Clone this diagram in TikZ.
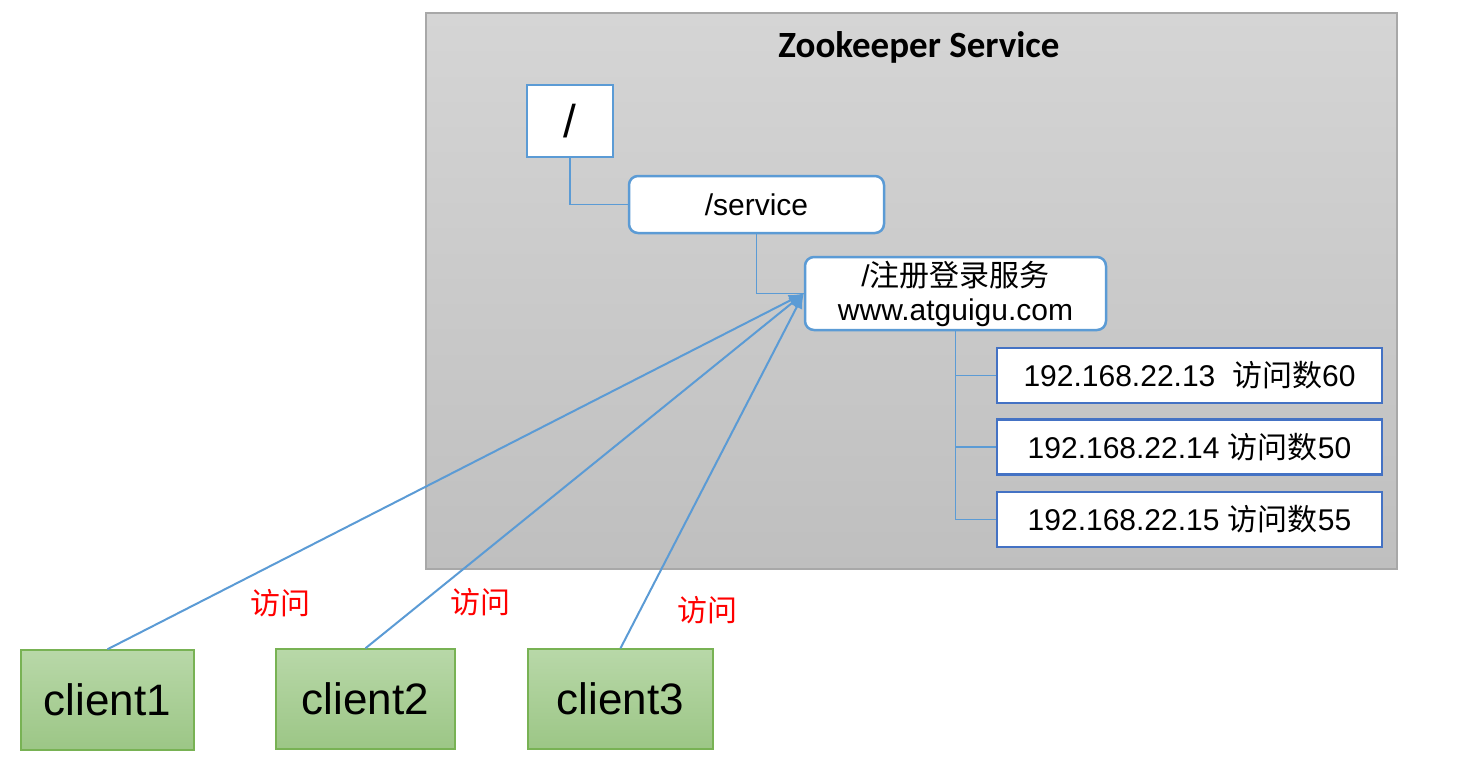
\documentclass[tikz,border=0pt]{standalone}
\usepackage{fontspec}
\setmainfont{Liberation Sans}
\newfontfamily\cjk{Noto Sans CJK SC}
\newfontfamily\titlefont{Carlito}
\usetikzlibrary{arrows.meta}
\definecolor{treeblue}{RGB}{91,155,213}
\definecolor{ipblue}{RGB}{68,114,196}
\definecolor{greenborder}{RGB}{120,178,84}
\definecolor{greentop}{RGB}{184,216,168}
\definecolor{greenbot}{RGB}{156,198,134}
\definecolor{graytop}{RGB}{213,213,213}
\definecolor{graybot}{RGB}{191,191,191}
\definecolor{grayborder}{RGB}{168,168,168}
\tikzset{
  svcbox/.style={draw=grayborder, line width=1.5pt, top color=graytop, bottom color=graybot, inner sep=0pt},
  rootbox/.style={draw=treeblue, line width=2.5pt, fill=white, inner sep=0pt},
  roundbox/.style={draw=treeblue, line width=2.5pt, fill=white, rounded corners=9pt, inner sep=0pt, align=center},
  ipbox/.style={draw=ipblue, line width=2.5pt, fill=white, inner sep=0pt, minimum width=385pt, minimum height=55pt, font=\fontsize{30}{36}\selectfont},
  clientbox/.style={draw=greenborder, line width=1.5pt, top color=greentop, bottom color=greenbot, inner sep=0pt, minimum height=100pt, font=\fontsize{44}{50}\selectfont},
  treeline/.style={draw=treeblue, line width=1.8pt},
  accline/.style={draw=treeblue, line width=2pt, -{Latex[length=15pt,width=12pt]}},
  acclabel/.style={text=red, font=\cjk\fontsize{30}{36}\selectfont, inner sep=0pt}
}
\begin{document}
\begin{tikzpicture}[x=1pt,y=-1pt]
\useasboundingbox (0,0) rectangle (1468,761);
\node[svcbox, minimum width=971pt, minimum height=556pt] (svc) at (911.5,291) {};
\node[font=\titlefont\bfseries\fontsize{37}{40}\selectfont, inner sep=0pt] (title) at (919,47) {Zookeeper Service};
\node[rootbox, minimum width=86pt, minimum height=72pt, font=\fontsize{46}{50}\selectfont] (root) at (570,121) {/};
\node[roundbox, minimum width=255pt, minimum height=57pt, font=\fontsize{30}{36}\selectfont] (service) at (756.5,204.5) {/service};
\node[roundbox, minimum width=301pt, minimum height=73pt, font=\fontsize{30}{38}\selectfont] (reg) at (955.5,293.5) {\raisebox{-4pt}{/{\cjk 注册登录服务}}\\www.atguigu.com};
\node[ipbox] (ip1) at (1189.5,375.5) {192.168.22.13\ \ {\cjk 访问数}60};
\node[ipbox] (ip2) at (1189.5,447) {192.168.22.14 {\cjk 访问数}50};
\node[ipbox] (ip3) at (1189.5,519.5) {192.168.22.15 {\cjk 访问数}55};
\node[clientbox, minimum width=173pt] (c1) at (107.5,700) {client1};
\node[clientbox, minimum width=179pt] (c2) at (365.5,699) {client2};
\node[clientbox, minimum width=185pt] (c3) at (620.5,699) {client3};
\draw[treeline] (root.south) |- (service.west);
\draw[treeline] (service.south) |- (reg.west);
\draw[treeline] (reg.south) |- (ip1.west);
\draw[treeline] (reg.south) |- (ip2.west);
\draw[treeline] (reg.south) |- (ip3.west);
\draw[accline] (c1.north) -- (reg.west);
\draw[accline] (c2.north) -- (reg.west);
\draw[accline] (c3.north) -- (reg.west);
\node[acclabel] (l1) at (280,603) {访问};
\node[acclabel] (l2) at (480,602) {访问};
\node[acclabel] (l3) at (707,610) {访问};
\end{tikzpicture}
\end{document}
